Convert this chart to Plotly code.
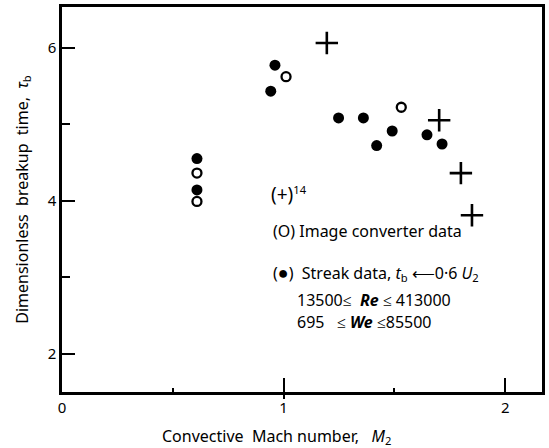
import plotly.graph_objects as go

# Data
plus_x = [1.195, 1.702, 1.80, 1.85]
plus_y = [6.06, 5.05, 4.36, 3.81]

filled_x = [0.609, 0.609, 0.961, 0.942, 1.248, 1.36, 1.49, 1.42, 1.647, 1.715]
filled_y = [4.55, 4.14, 5.77, 5.43, 5.08, 5.08, 4.91, 4.72, 4.86, 4.74]

open_x = [0.609, 0.609, 1.011, 1.531]
open_y = [4.36, 3.99, 5.62, 5.22]

x_ticks = [0, 1, 2]
y_ticks = [2, 4, 6]

FONT = "Noto Sans"
ink = "black"

fig = go.Figure()
fig.add_trace(go.Scatter(x=filled_x, y=filled_y, mode="markers",
                         marker=dict(symbol="circle", size=11, color=ink, line=dict(width=0)),
                         showlegend=False))
fig.add_trace(go.Scatter(x=open_x, y=open_y, mode="markers",
                         marker=dict(symbol="circle-open", size=9, color=ink, line=dict(width=2.3, color=ink)),
                         showlegend=False))
fig.add_trace(go.Scatter(x=plus_x, y=plus_y, mode="markers",
                         marker=dict(symbol="cross-thin", size=16, color=ink, line=dict(width=2.6, color=ink)),
                         showlegend=False))
# invisible trace on xaxis2 to carry the crossing tick at 1
fig.add_trace(go.Scatter(x=[1], y=[2], xaxis="x2", mode="markers",
                         marker=dict(opacity=0), showlegend=False, hoverinfo="skip"))

fig.update_layout(
    width=549, height=448,
    margin=dict(l=62, r=4, t=5, b=56),
    paper_bgcolor="white", plot_bgcolor="white",
    font=dict(family=FONT, size=15, color=ink),
    xaxis=dict(range=[0, 2.166], tickvals=x_ticks, ticks="inside", ticklen=14, tickwidth=2,
               tickcolor=ink, showgrid=False, zeroline=False, showline=True, linewidth=2.5,
               linecolor=ink, mirror=True, tickfont=dict(size=15),
               minor=dict(tickvals=[0.5, 1.5], ticks="inside", ticklen=4, tickwidth=1.5, tickcolor=ink)),
    xaxis2=dict(overlaying="x", range=[0, 2.166], tickvals=[1], ticks="outside", ticklen=6,
                tickwidth=2, tickcolor=ink, showticklabels=False, showgrid=False, zeroline=False,
                side="bottom", anchor="y"),
    yaxis=dict(range=[1.5, 6.53], tickvals=y_ticks, ticks="inside", ticklen=13, tickwidth=2,
               tickcolor=ink, showgrid=False, zeroline=False, showline=True, linewidth=2.5,
               linecolor=ink, mirror=True, tickfont=dict(size=15),
               minor=dict(tickvals=[3, 5], ticks="inside", ticklen=8, tickwidth=1.5, tickcolor=ink),
               title=dict(text="Dimensionless  breakup  time,  <i>τ</i><sub>b</sub>", standoff=16,
                          font=dict(size=16))),
)

# x-axis title placed like the reference (slightly left of plot centre)
fig.add_annotation(x=0.446, y=-0.115, xref="paper", yref="paper",
                   text="Convective  Mach number,   <i>M</i><sub>2</sub>", showarrow=False,
                   xanchor="center", yanchor="middle", font=dict(size=16, family=FONT))

ann = [
    (0.935, 4.09, "<span style='font-size:19px'>(+)</span><sup>14</sup>", 16),
    (0.944, 3.60, "(O) Image converter data", 16),
    (0.944, 3.06, "(<span style='font-size:18px'>●</span>)  Streak data, <i>t</i><sub>b</sub> ⟵0·6 <i>U</i><sub>2</sub>", 16),
    (1.052, 2.70, "13500≤  <i><b>Re</b></i> ≤ 413000", 16),
    (1.052, 2.41, "695   ≤ <i><b>We</b></i> ≤85500", 16),
]
for x, y, t, s in ann:
    fig.add_annotation(x=x, y=y, xref="x", yref="y", text=t, showarrow=False,
                       xanchor="left", yanchor="middle", font=dict(size=s, family=FONT))

fig.write_html("out.html")
